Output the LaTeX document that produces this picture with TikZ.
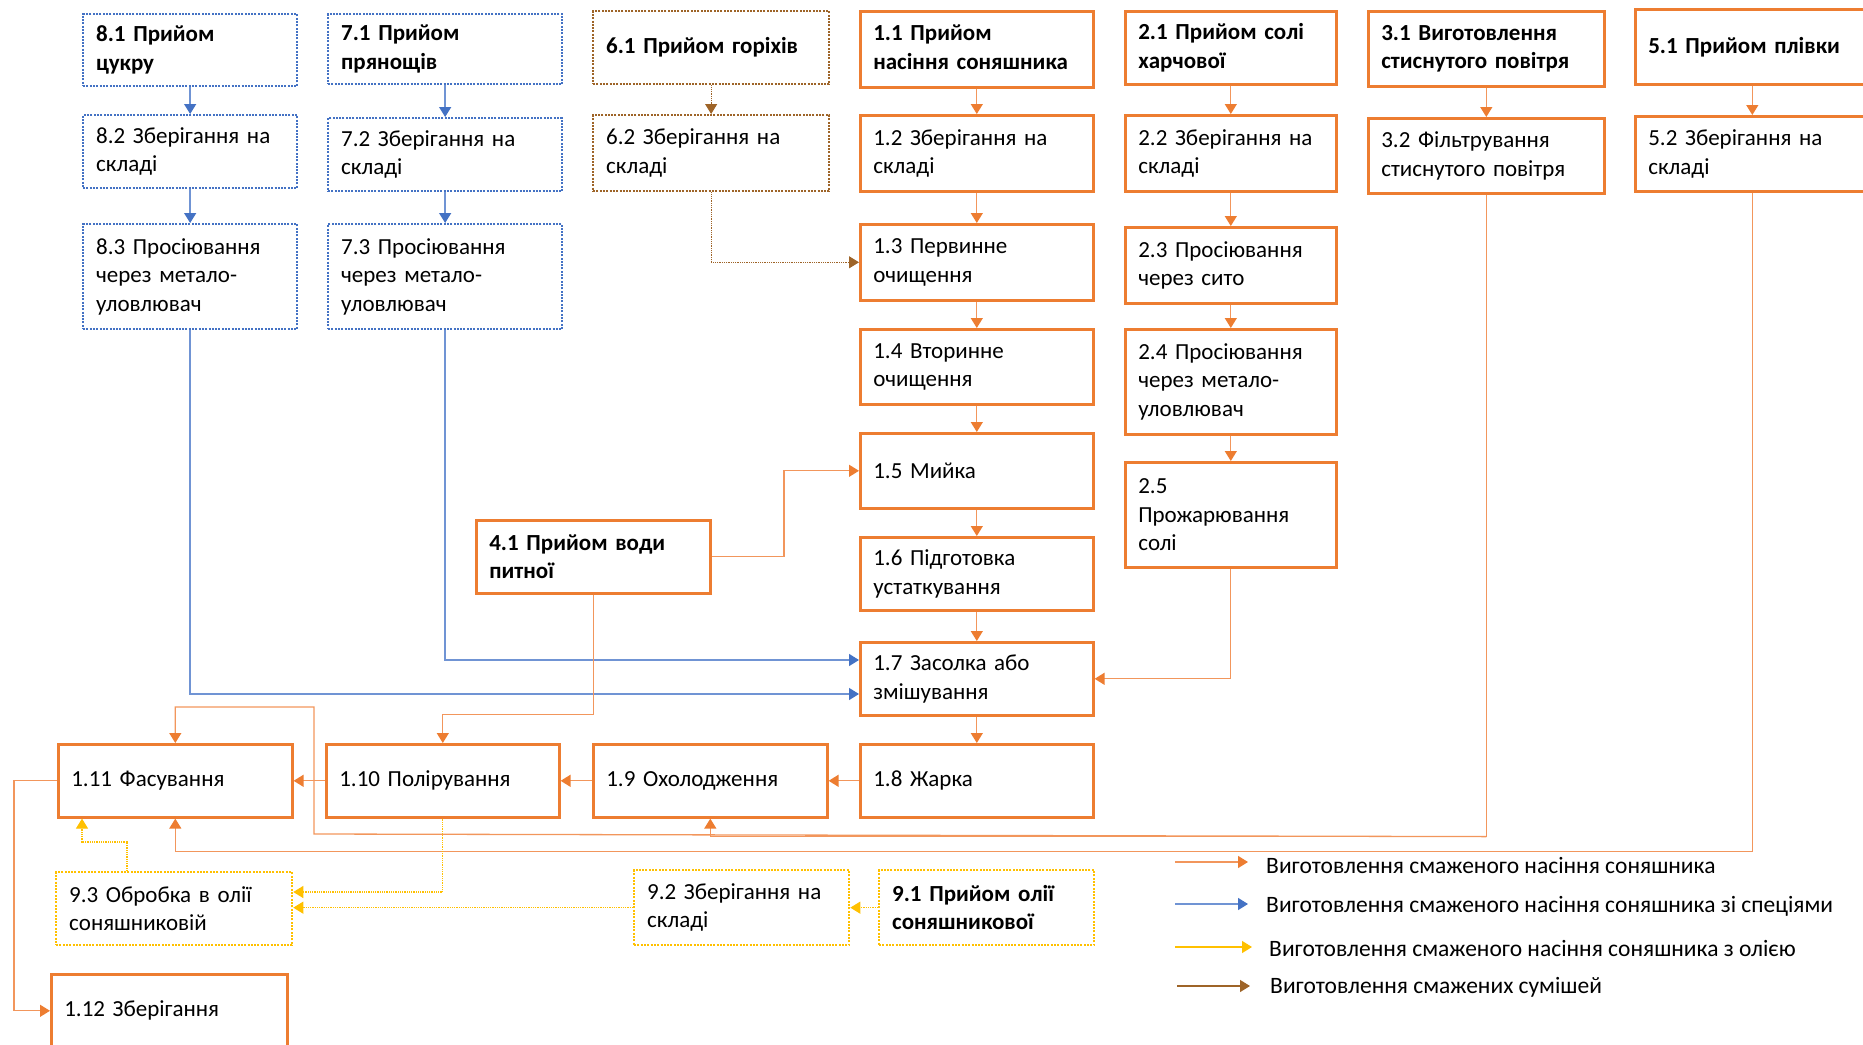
\documentclass[tikz,border=0pt]{standalone}
\usepackage{fontspec}
\setmainfont{Carlito}
\usetikzlibrary{arrows.meta,calc}
\definecolor{orng}{RGB}{237,125,49}
\definecolor{orngl}{RGB}{242,150,92}
\definecolor{blu}{RGB}{68,114,196}
\definecolor{blul}{RGB}{112,148,212}
\definecolor{yel}{RGB}{255,192,0}
\definecolor{brn}{RGB}{158,100,40}
\tikzset{
  base/.style={rectangle, anchor=north west, align=left, inner xsep=13pt, inner ysep=0pt,
    font=\fontsize{23}{28.5}\selectfont},
  obox/.style={base, draw=orng, line width=2.6pt},
  bbox/.style={base, draw=blu, line width=2.3pt, dash pattern=on 2pt off 1.3pt},
  brbox/.style={base, draw=brn, line width=2.3pt, dash pattern=on 2pt off 1.3pt},
  ybox/.style={base, draw=yel, line width=2.3pt, dash pattern=on 2pt off 1.3pt},
  oc/.style={draw=orngl, line width=1.3pt, -{Triangle[length=10pt,width=12pt,color=orng]}},
  bc/.style={draw=blul, line width=1.4pt, -{Triangle[length=10pt,width=12pt,color=blu]}},
  yc/.style={draw=yel, line width=1.1pt, dash pattern=on 1pt off 0.8pt, -{Triangle[length=10pt,width=12pt,color=yel]}},
  brc/.style={draw=brn, line width=1.1pt, dash pattern=on 1pt off 0.8pt, -{Triangle[length=10pt,width=12pt,color=brn]}},
  legline/.style={line width=1.4pt},
  legtext/.style={anchor=west, inner sep=0pt, font=\fontsize{23.5}{28.5}\selectfont},
}
\newcommand\bx[7]{\node[#1, minimum width=#5pt, minimum height=#6pt,
  text width=\dimexpr#5pt-26pt\relax] (#2) at (#3,#4) {#7};}
\begin{document}
\begin{tikzpicture}[x=1pt,y=-1pt]
\useasboundingbox (0,0) rectangle (1863,1044);
% column 8
\bx{bbox}{s81}{82}{13}{214}{72}{\textbf{8.1 Прийом\\цукру}}
\bx{bbox}{s82}{82}{114}{214}{73}{8.2 Зберігання на\\складі}
\bx{bbox}{s83}{82}{223}{214}{105}{8.3 Просіювання\\через метало-\\уловлювач}
% column 7
\bx{bbox}{s71}{327}{13}{234}{70}{\textbf{7.1 Прийом\\прянощів}}
\bx{bbox}{s72}{327}{117}{234}{73}{7.2 Зберігання на\\складі}
\bx{bbox}{s73}{327}{223}{234}{105}{7.3 Просіювання\\через метало-\\уловлювач}
% column 6
\bx{brbox}{s61}{592}{10}{236}{73}{\textbf{6.1 Прийом горіхів}}
\bx{brbox}{s62}{592}{114}{236}{76}{6.2 Зберігання на\\складі}
% column 1
\bx{obox}{s11}{859}{10}{233}{76}{\textbf{1.1 Прийом\\насіння соняшника}\vspace*{4pt}}
\bx{obox}{s12}{859}{114}{233}{76}{1.2 Зберігання на\\складі}
\bx{obox}{s13}{859}{223}{233}{76}{1.3 Первинне\\очищення}
\bx{obox}{s14}{859}{328}{233}{75}{1.4 Вторинне\\очищення}
\bx{obox}{s15}{859}{432}{233}{75}{1.5 Мийка}
\bx{obox}{s16}{859}{536}{233}{73}{1.6 Підготовка\\устаткування}
\bx{obox}{s17}{859}{641}{233}{73}{1.7 Засолка або\\змішування}
\bx{obox}{s18}{859}{743}{233}{73}{1.8 Жарка}
\bx{obox}{s19}{592}{743}{234}{73}{1.9 Охолодження}
\bx{obox}{s110}{325}{743}{233}{73}{1.10 Полірування}
\bx{obox}{s111}{57}{743}{234}{73}{1.11 Фасування}
\bx{obox}{s112}{50}{973}{236}{73}{1.12 Зберігання}
% column 2
\bx{obox}{s21}{1124}{10}{211}{73}{\textbf{2.1 Прийом солі\\харчової}}
\bx{obox}{s22}{1124}{114}{211}{76}{2.2 Зберігання на\\складі}
\bx{obox}{s23}{1124}{226}{211}{76}{2.3 Просіювання\\через сито}
\bx{obox}{s24}{1124}{328}{211}{105}{2.4 Просіювання\\через метало-\\уловлювач}
\bx{obox}{s25}{1124}{461}{211}{105}{2.5\\Прожарювання\\солі}
% column 3
\bx{obox}{s31}{1367}{10}{236}{75}{\textbf{3.1 Виготовлення\\стиснутого повітря}}
\bx{obox}{s32}{1367}{117}{236}{75}{3.2 Фільтрування\\стиснутого повітря}
% column 5
\bx{obox}{s51}{1634}{8}{234}{75}{\textbf{5.1 Прийом плівки}}
\bx{obox}{s52}{1634}{115}{234}{75}{5.2 Зберігання на\\складі}
% water
\bx{obox}{s41}{475}{519}{234}{73}{\textbf{4.1 Прийом води\\питної}}
% oil
\bx{ybox}{s93}{55}{871}{236}{73}{9.3 Обробка в олії\\соняшниковій}
\bx{ybox}{s92}{633}{869}{215}{75}{9.2 Зберігання на\\складі}
\bx{ybox}{s91}{878}{869}{215}{75}{\textbf{9.1 Прийом олії\\соняшникової}}

% blue chains
\draw[bc] (s81.south) -- (s82.north);
\draw[bc] (s82.south) -- (s83.north);
\draw[bc] (s71.south) -- (s72.north);
\draw[bc] (s72.south) -- (s73.north);
\draw[bc] (s73.south) |- ($(s17.north west)+(0,19)$);
\draw[bc] (s83.south) |- ($(s17.north west)+(0,53)$);
% brown
\draw[brc] (s61.south) -- (s62.north);
\draw[brc] (s62.south) |- (s13.west);
% orange chain 1
\draw[oc] (s11.south) -- (s12.north);
\draw[oc] (s12.south) -- (s13.north);
\draw[oc] (s13.south) -- (s14.north);
\draw[oc] (s14.south) -- (s15.north);
\draw[oc] (s15.south) -- (s16.north);
\draw[oc] (s16.south) -- (s17.north);
\draw[oc] (s17.south) -- (s18.north);
\draw[oc] (s18.west) -- (s19.east);
\draw[oc] (s19.west) -- (s110.east);
\draw[oc] (s110.west) -- (s111.east);
% chain 2
\draw[oc] (s21.south) -- (s22.north);
\draw[oc] (s22.south) -- (s23.north);
\draw[oc] (s23.south) -- (s24.north);
\draw[oc] (s24.south) -- (s25.north);
\draw[oc] (s25.south) |- (s17.east);
% 3 and 5
\draw[oc] (s31.south) -- (s32.north);
\draw[oc] (s51.south) -- (s52.north);
\draw[oc] (s32.south) -- ++(0,642) -| (s19.south);
\draw[oc] (s32.south) ++(0,642) -- (314,834) -- (314,707) -| (s111.north);
\draw[oc] (s52.south) -- ++(0,659) -| (s111.south);
% water
\coordinate (w1) at (784,0);
\draw[oc] (s41.east) -| (w1 |- s15.west) -- (s15.west);
\draw[oc] (s41.south) -- ++(0,120) -| (s110.north);
% packaging to storage
\draw[oc] (s111.west) -- ++(-43,0) |- (s112.west);
% oil
\draw[yc] (s91.west) -- (s92.east);
\draw[yc] (s92.west) -- (s92.west -| s93.east);
\draw[yc] (s110.south) |- ($(s93.north east)+(0,21)$);
\draw[yc] ($(s93.north west)+(72,0)$) -- ++(0,-29) -| ($(s111.south west)+(25,0)$);

% legend
\coordinate (la1) at (1175,862); \coordinate (lb1) at (1248,862);
\coordinate (la2) at (1175,904); \coordinate (lb2) at (1248,904);
\coordinate (la3) at (1175,947); \coordinate (lb3) at (1252,947);
\coordinate (la4) at (1177,986); \coordinate (lb4) at (1250,986);
\draw[legline, draw=orngl, -{Triangle[length=10pt,width=12pt,color=orng]}] (la1) -- (lb1);
\draw[legline, draw=blul, -{Triangle[length=10pt,width=12pt,color=blu]}] (la2) -- (lb2);
\draw[legline, draw=yel, -{Triangle[length=10pt,width=12pt,color=yel]}] (la3) -- (lb3);
\draw[legline, draw=brn, -{Triangle[length=10pt,width=12pt,color=brn]}] (la4) -- (lb4);
\node[legtext] (lt1) at (1266,865) {Виготовлення смаженого насіння соняшника};
\node[legtext] (lt2) at (1266,906) {Виготовлення смаженого насіння соняшника зі спеціями};
\node[legtext] (lt3) at (1269,948) {Виготовлення смаженого насіння соняшника з олією};
\node[legtext] (lt4) at (1270,987) {Виготовлення смажених сумішей};
\end{tikzpicture}
\end{document}
